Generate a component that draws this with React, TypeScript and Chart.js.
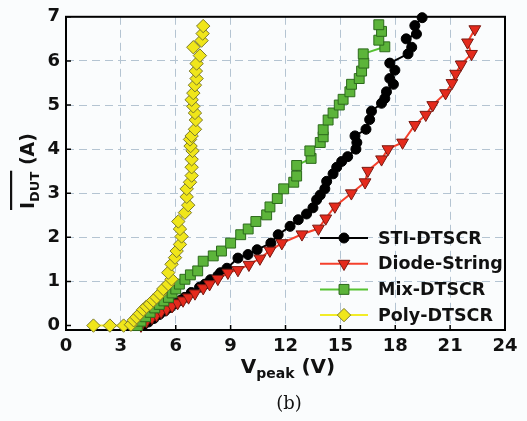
import React, { useEffect, useRef } from 'react';
import { Chart, registerables } from 'chart.js';

Chart.register(...registerables);

const xTicks = [0, 3, 6, 9, 12, 15, 18, 21, 24];
const yTicks = [0, 1, 2, 3, 4, 5, 6, 7];

const seriesNames = ['STI-DTSCR', 'Diode-String', 'Mix-DTSCR', 'Poly-DTSCR'];

const stiV = [4.2, 4.5, 4.8, 5.1, 5.4, 5.7, 6.0, 6.25, 6.5, 6.85, 7.3, 7.6, 7.9, 8.3, 8.45, 8.8, 9.4, 9.95, 10.45, 11.2, 11.6, 12.25, 12.7, 13.15, 13.5, 13.7, 13.9, 14.15, 14.25, 14.6, 14.8, 15.07, 15.4, 15.85, 15.9, 15.8, 16.4, 16.6, 16.7, 17.25, 17.43, 17.52, 17.9, 17.7, 17.98, 17.7, 18.7, 18.9, 18.6, 19.16, 19.07, 19.47];
const stiI = [0.0, 0.08, 0.16, 0.25, 0.33, 0.41, 0.5, 0.57, 0.64, 0.75, 0.87, 0.94, 1.04, 1.13, 1.2, 1.3, 1.53, 1.61, 1.72, 1.87, 2.06, 2.25, 2.4, 2.53, 2.67, 2.85, 2.96, 3.1, 3.27, 3.44, 3.59, 3.72, 3.83, 4.0, 4.15, 4.3, 4.45, 4.67, 4.86, 5.04, 5.15, 5.3, 5.47, 5.6, 5.79, 5.95, 6.16, 6.31, 6.5, 6.61, 6.8, 6.98];

const dsV = [4.1, 4.4, 4.7, 4.95, 5.2, 5.5, 5.8, 6.1, 6.4, 6.7, 7.05, 7.5, 7.85, 8.3, 8.85, 9.4, 10.0, 10.6, 11.15, 11.8, 12.9, 13.8, 14.2, 14.7, 15.6, 16.35, 16.5, 17.25, 17.6, 18.4, 19.07, 19.67, 20.05, 20.75, 21.1, 21.3, 21.6, 22.17, 21.95, 22.35];
const dsI = [0.0, 0.1, 0.18, 0.24, 0.31, 0.37, 0.44, 0.51, 0.57, 0.64, 0.73, 0.85, 0.94, 1.06, 1.2, 1.26, 1.38, 1.52, 1.7, 1.87, 2.07, 2.2, 2.43, 2.7, 3.0, 3.25, 3.51, 3.77, 4.0, 4.15, 4.55, 4.78, 5.0, 5.27, 5.5, 5.71, 5.92, 6.16, 6.42, 6.72];

const mxV = [3.9, 4.1, 4.35, 4.6, 4.85, 5.1, 5.35, 5.6, 5.8, 6.0, 6.2, 6.5, 6.8, 7.2, 7.5, 8.05, 8.5, 9.0, 9.55, 9.96, 10.38, 10.97, 11.15, 11.55, 11.9, 12.45, 12.61, 12.61, 13.4, 13.33, 13.9, 14.06, 14.06, 14.33, 14.6, 14.94, 15.15, 15.52, 15.61, 16.03, 16.16, 16.28, 16.25, 17.43, 17.1, 17.25, 17.1];
const mxI = [0.0, 0.1, 0.2, 0.3, 0.4, 0.48, 0.56, 0.64, 0.74, 0.83, 0.94, 1.05, 1.15, 1.24, 1.46, 1.58, 1.69, 1.87, 2.06, 2.19, 2.36, 2.51, 2.69, 2.88, 3.1, 3.25, 3.39, 3.63, 3.79, 3.96, 4.15, 4.28, 4.44, 4.66, 4.82, 5.0, 5.13, 5.3, 5.47, 5.6, 5.77, 5.95, 6.16, 6.32, 6.47, 6.67, 6.82];

const pyV = [1.5, 2.4, 3.15, 3.55, 3.7, 3.86, 4.04, 4.22, 4.4, 4.59, 4.77, 4.95, 5.14, 5.32, 5.59, 5.77, 5.59, 5.77, 5.96, 6.05, 6.23, 6.32, 6.23, 6.14, 6.5, 6.68, 6.6, 6.6, 6.78, 6.87, 6.87, 6.87, 6.92, 6.81, 6.78, 6.87, 7.05, 7.1, 7.05, 6.96, 6.87, 6.96, 7.05, 7.14, 7.1, 7.14, 7.32, 6.96, 7.41, 7.47, 7.5];
const pyI = [0, 0, 0, 0.02, 0.12, 0.19, 0.27, 0.36, 0.43, 0.49, 0.57, 0.64, 0.72, 0.83, 0.94, 1.05, 1.2, 1.39, 1.54, 1.69, 1.84, 2.02, 2.19, 2.36, 2.56, 2.73, 2.92, 3.1, 3.25, 3.4, 3.59, 3.77, 3.96, 4.07, 4.22, 4.3, 4.45, 4.66, 4.82, 4.97, 5.12, 5.27, 5.45, 5.6, 5.77, 5.94, 6.12, 6.31, 6.46, 6.62, 6.79];

const W = 527;
const H = 421;
const BG = '#fafcfd';
const GRID = '#b4c4d2';
const SANS = '"DejaVu Sans", sans-serif';

type Style = { line: string; fill: string; stroke: string; shape: string; r: number; rot: number };
const styles: Style[] = [
  { line: '#000000', fill: '#000000', stroke: '#000000', shape: 'circle', r: 5, rot: 0 },
  { line: '#f5402c', fill: '#e42a1c', stroke: '#7a1a12', shape: 'triangle', r: 6.8, rot: 180 },
  { line: '#56c232', fill: '#5cb43a', stroke: '#2c6a1c', shape: 'rect', r: 7, rot: 0 },
  { line: '#f2ec28', fill: '#f0e61a', stroke: '#7c7a2c', shape: 'rectRot', r: 6.7, rot: 0 },
];

function toPts(xs: number[], ys: number[]) {
  return xs.map((x, i) => ({ x, y: ys[i] }));
}

function drawMarker(ctx: CanvasRenderingContext2D, s: Style, x: number, y: number) {
  ctx.beginPath();
  const r = s.r;
  if (s.shape === 'circle') {
    ctx.arc(x, y, r, 0, Math.PI * 2);
  } else if (s.shape === 'triangle') {
    ctx.moveTo(x, y + r);
    ctx.lineTo(x - Math.sin(Math.PI / 3) * r, y - r / 2);
    ctx.lineTo(x + Math.sin(Math.PI / 3) * r, y - r / 2);
    ctx.closePath();
  } else if (s.shape === 'rect') {
    const a = Math.SQRT1_2 * r;
    ctx.rect(x - a, y - a, 2 * a, 2 * a);
  } else {
    ctx.moveTo(x, y - r);
    ctx.lineTo(x + r, y);
    ctx.lineTo(x, y + r);
    ctx.lineTo(x - r, y);
    ctx.closePath();
  }
  ctx.fillStyle = s.fill;
  ctx.fill();
  ctx.lineWidth = 1;
  ctx.strokeStyle = s.stroke;
  ctx.stroke();
}

const decor = {
  id: 'decor',
  beforeDraw(chart: any) {
    const ctx = chart.ctx;
    ctx.save();
    ctx.fillStyle = BG;
    ctx.fillRect(0, 0, chart.width, chart.height);
    ctx.restore();
  },
  beforeDatasetsDraw(chart: any) {
    const ctx = chart.ctx as CanvasRenderingContext2D;
    const a = chart.chartArea;
    const xs = chart.scales.x;
    const ys = chart.scales.y;
    ctx.save();
    ctx.strokeStyle = '#000';
    ctx.lineWidth = 1.5;
    ctx.beginPath();
    for (const v of xTicks) {
      const px = xs.getPixelForValue(v);
      ctx.moveTo(px, a.bottom);
      ctx.lineTo(px, a.bottom - 5);
    }
    for (const v of yTicks) {
      const py = ys.getPixelForValue(v);
      ctx.moveTo(a.left, py);
      ctx.lineTo(a.left + 5, py);
    }
    ctx.stroke();
    ctx.lineWidth = 2;
    ctx.strokeRect(a.left, a.top, a.right - a.left, a.bottom - a.top);
    ctx.restore();
  },
  afterDraw(chart: any) {
    const ctx = chart.ctx as CanvasRenderingContext2D;
    ctx.save();
    // legend
    const ly0 = 238;
    const dy = 25.7;
    seriesNames.forEach((name, i) => {
      const s = styles[i];
      const y = ly0 + i * dy;
      ctx.strokeStyle = s.line;
      ctx.lineWidth = 2;
      ctx.beginPath();
      ctx.moveTo(320, y);
      ctx.lineTo(368, y);
      ctx.stroke();
      drawMarker(ctx, s, 344, y);
      ctx.fillStyle = '#111';
      ctx.font = `bold 17.5px ${SANS}`;
      ctx.textAlign = 'left';
      ctx.textBaseline = 'middle';
      ctx.fillText(name, 378, y + 1);
    });

    // x title
    ctx.fillStyle = '#111';
    ctx.textBaseline = 'alphabetic';
    ctx.textAlign = 'left';
    const big = `bold 20px ${SANS}`;
    const small = `bold 14px ${SANS}`;
    ctx.font = big;
    const wV = ctx.measureText('V').width;
    const wU = ctx.measureText(' (V)').width;
    ctx.font = small;
    const wP = ctx.measureText('peak').width;
    const x0 = 288 - (wV + wP + wU) / 2;
    ctx.font = big;
    ctx.fillText('V', x0, 373);
    ctx.font = small;
    ctx.fillText('peak', x0 + wV, 378);
    ctx.font = big;
    ctx.fillText(' (V)', x0 + wV + wP, 373);

    // y title (rotated)
    ctx.save();
    const ybig = `bold 19px ${SANS}`;
    const ysmall = `bold 13px ${SANS}`;
    ctx.font = ybig;
    const wI = ctx.measureText('I').width;
    const wA = ctx.measureText(' (A)').width;
    ctx.font = ysmall;
    const wD = ctx.measureText('DUT').width;
    const total = wI + wD + wA;
    const cy = 171;
    ctx.translate(34, cy + total / 2);
    ctx.rotate(-Math.PI / 2);
    ctx.font = ybig;
    ctx.fillText('I', 0, 0);
    ctx.font = ysmall;
    ctx.fillText('DUT', wI, 5);
    ctx.font = ybig;
    ctx.fillText(' (A)', wI + wD, 0);
    ctx.fillRect(-1, -24, wI + wD + 2, 2.2);
    ctx.restore();

    // caption
    ctx.font = `18px "DejaVu Serif", serif`;
    ctx.textAlign = 'center';
    ctx.fillStyle = '#111';
    ctx.fillText('(b)', 289, 409);
    ctx.restore();
  },
};

export default function App() {
  const ref = useRef<HTMLCanvasElement | null>(null);
  useEffect(() => {
    if (!ref.current) return;
    const dataSets = [toPts(stiV, stiI), toPts(dsV, dsI), toPts(mxV, mxI), toPts(pyV, pyI)];
    const chart = new Chart(ref.current, {
      type: 'line',
      data: {
        datasets: dataSets.map((d, i) => ({
          label: seriesNames[i],
          data: d,
          borderColor: styles[i].line,
          borderWidth: 2,
          backgroundColor: styles[i].fill,
          pointBackgroundColor: styles[i].fill,
          pointBorderColor: styles[i].stroke,
          pointBorderWidth: 1,
          pointRadius: styles[i].r,
          pointStyle: styles[i].shape as any,
          pointRotation: styles[i].rot,
          tension: 0,
          fill: false,
          clip: false as any,
          order: 4 - i,
        })),
      },
      options: {
        animation: false,
        responsive: false,
        layout: { padding: { left: 0, top: 13, right: 22, bottom: 0 } },
        plugins: { legend: { display: false }, tooltip: { enabled: false } },
        scales: {
          x: {
            type: 'linear',
            min: 0,
            max: 24,
            afterBuildTicks: (s: any) => { s.ticks = xTicks.map((v) => ({ value: v })); },
            afterFit: (s: any) => { s.height = 91; },
            grid: {
              color: (c: any) => (c.tick && (c.tick.value === 0 || c.tick.value === 24) ? 'rgba(0,0,0,0)' : GRID),
              lineWidth: 1,
              drawTicks: false,
            },
            border: { display: false, dash: [8, 5] },
            ticks: { padding: 6, color: '#111', font: { family: SANS, size: 18, weight: 'bold' }, maxRotation: 0, autoSkip: false },
          },
          y: {
            type: 'linear',
            min: -0.1,
            max: 7,
            afterBuildTicks: (s: any) => { s.ticks = yTicks.map((v) => ({ value: v })); },
            afterFit: (s: any) => { s.width = 66; },
            grid: {
              color: (c: any) => (c.tick && (c.tick.value === 0 || c.tick.value === 7) ? 'rgba(0,0,0,0)' : GRID),
              lineWidth: 1,
              drawTicks: false,
            },
            border: { display: false, dash: [8, 5] },
            ticks: { padding: 6, color: '#111', font: { family: SANS, size: 18, weight: 'bold' }, autoSkip: false },
          },
        },
      },
      plugins: [decor],
    } as any);
    return () => chart.destroy();
  }, []);
  return (
    <div style={{ position: 'fixed', left: 0, top: 0, width: W, height: H, background: BG }}>
      <canvas ref={ref} width={W} height={H} style={{ display: 'block', width: W, height: H }} />
    </div>
  );
}
